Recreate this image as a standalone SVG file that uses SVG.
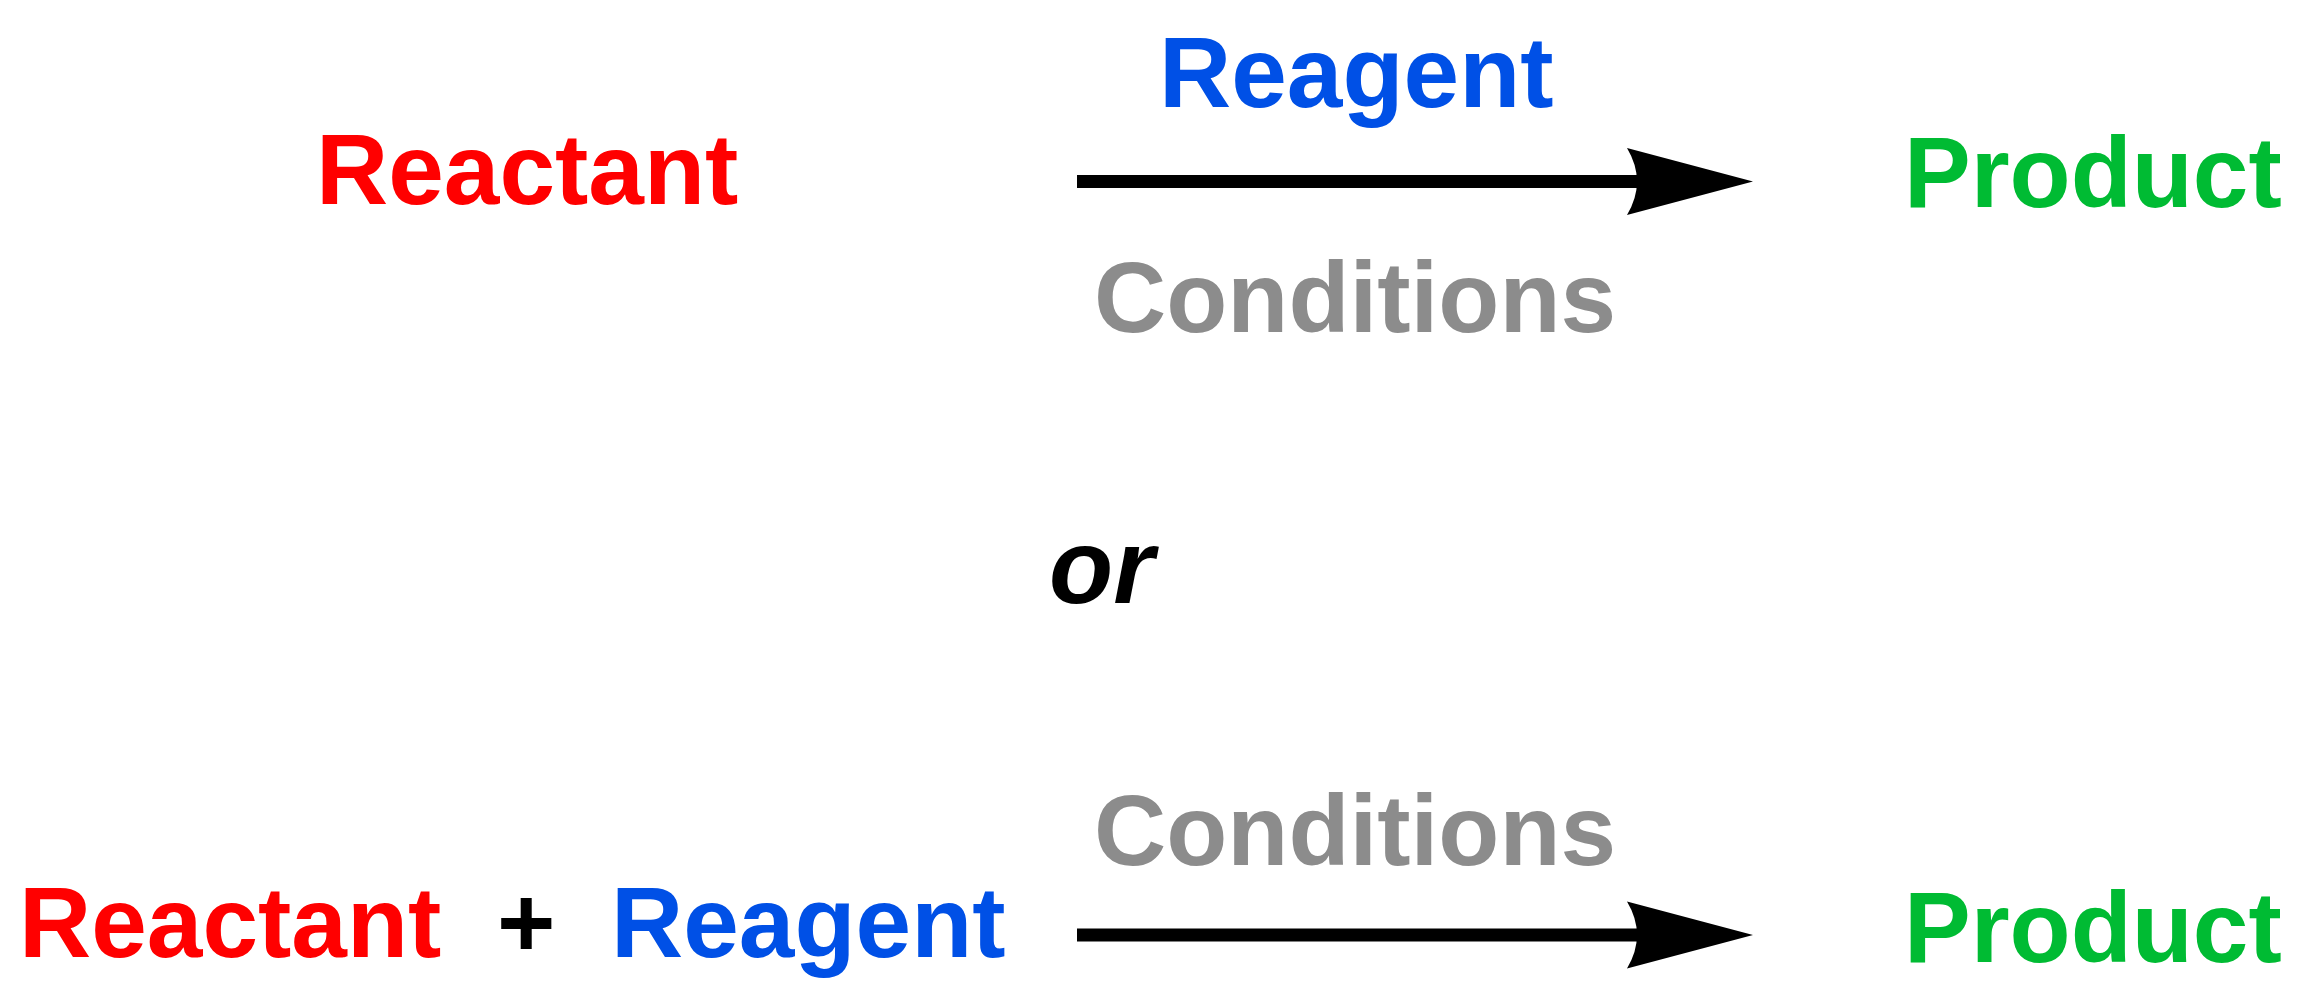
<svg xmlns="http://www.w3.org/2000/svg" width="2301" height="1005" viewBox="0 0 2301 1005">
<style>
text{font-family:"Liberation Sans",Arial,sans-serif;font-weight:bold;font-size:100px}
.red{fill:#ff0000}.blue{fill:#0050e6}.green{fill:#00bb33}.gray{fill:#8c8c8c}.blk{fill:#000}
.or{font-style:italic;font-size:105px}
.line{stroke:#000;stroke-width:13;fill:none}
</style>
<rect width="2301" height="1005" fill="#fff"/>
<g id="connectors">
<line class="line" x1="1077" y1="181.5" x2="1642" y2="181.5"/>
<path d="M1753,181.5 L1627,148 Q1647,181.5 1627,215 Z" fill="#000"/>
<line class="line" x1="1077" y1="935" x2="1642" y2="935"/>
<path d="M1753,935 L1627,901.5 Q1647,935 1627,968.5 Z" fill="#000"/>
</g>
<g id="reactant1"><text class="red" x="316" y="204">Reactant</text></g>
<g id="reagent1"><text class="blue" x="1159" y="107">Reagent</text></g>
<g id="conditions1"><text class="gray" x="1094" y="332">Conditions</text></g>
<g id="product1"><text class="green" x="1904" y="207">Product</text></g>
<g id="or"><text class="blk or" x="1049" y="603">or</text></g>
<g id="reactant2"><text class="red" x="19" y="957">Reactant</text></g>
<g id="plus"><text class="blk" x="497" y="957">+</text></g>
<g id="reagent2"><text class="blue" x="611" y="957">Reagent</text></g>
<g id="conditions2"><text class="gray" x="1094" y="865">Conditions</text></g>
<g id="product2"><text class="green" x="1904" y="962">Product</text></g>
</svg>
